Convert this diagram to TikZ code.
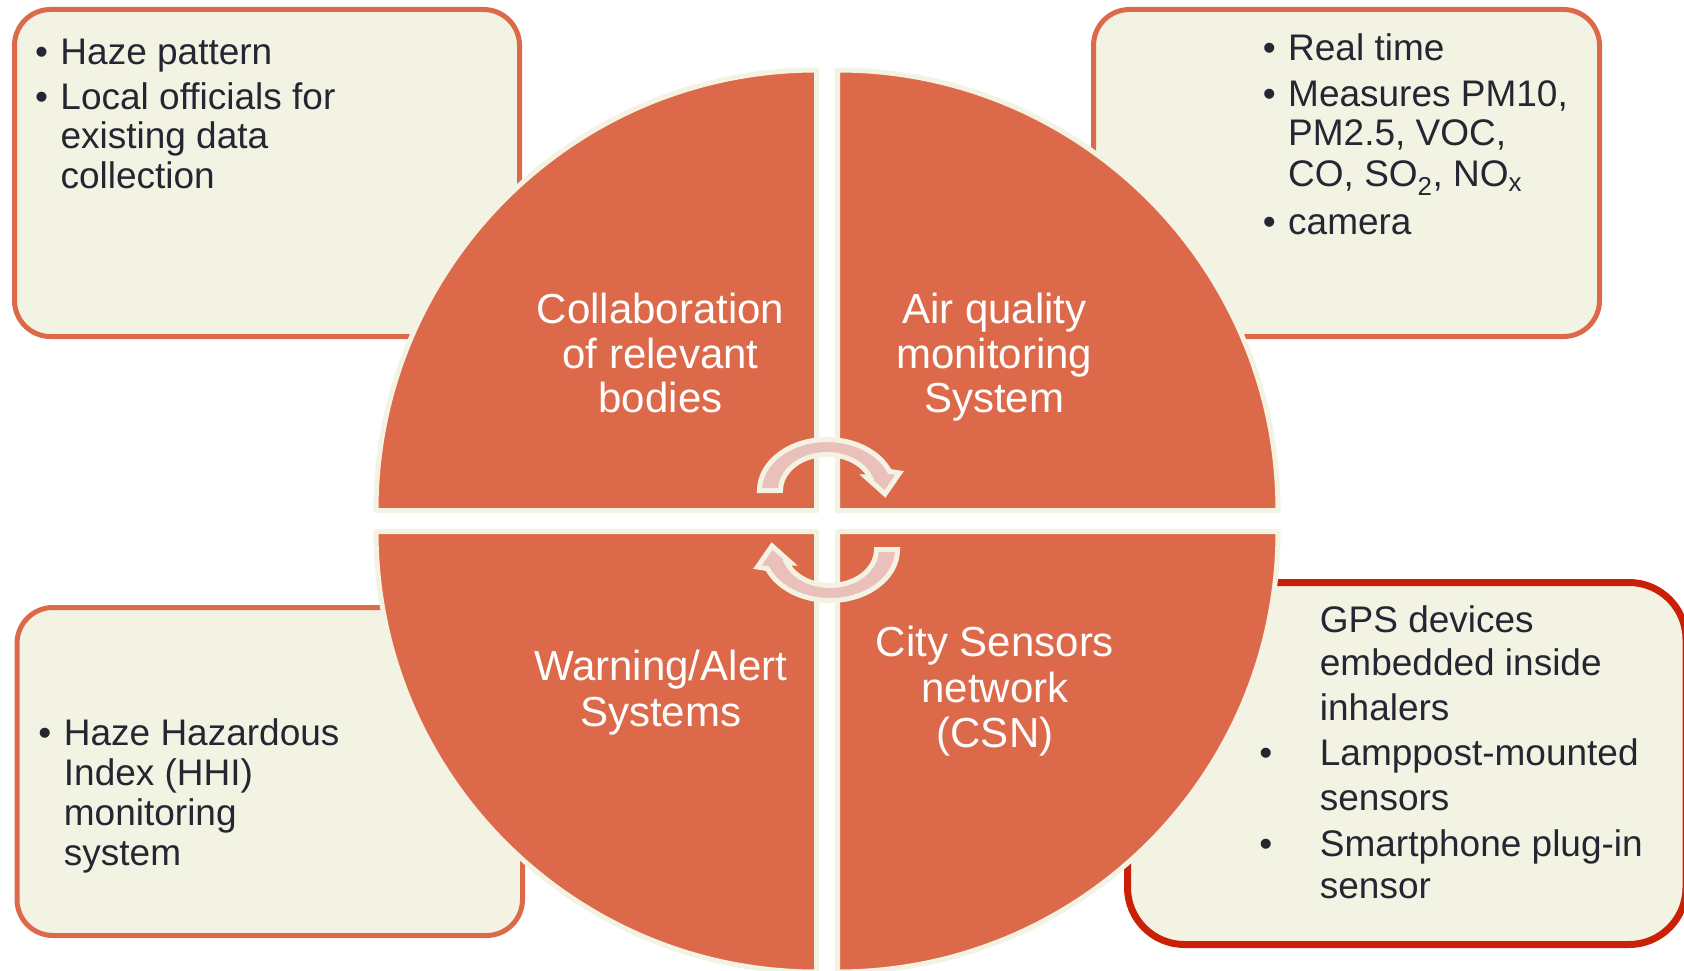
\documentclass[tikz,border=0pt]{standalone}
\usepackage{fontspec}
\setmainfont{Liberation Sans}
\definecolor{qorange}{RGB}{221,105,75}
\definecolor{qcream}{RGB}{243,242,227}
\definecolor{boxfill}{RGB}{243,243,228}
\definecolor{apink}{RGB}{234,192,187}
\definecolor{bred}{RGB}{202,32,8}
\definecolor{txtdark}{RGB}{38,38,51}
\newcommand{\boxfont}{\fontsize{37}{40}\selectfont}
\newcommand{\quadfont}{\fontsize{42}{45}\selectfont}
\newcommand{\bul}[1]{\llap{•\hspace{#1}}}
\tikzset{
  quad/.style={fill=qorange, draw=qcream, line width=5pt, line join=round},
  infobox/.style={fill=boxfill, draw=qorange, line width=5pt, rounded corners=36pt},
  redbox/.style={fill=boxfill, draw=bred, line width=7pt, rounded corners=57pt},
  boxtxt/.style={anchor=base west, inner sep=0pt, text=txtdark, font=\boxfont},
  quadtxt/.style={anchor=base, inner sep=0pt, text=white, font=\quadfont},
  cyc/.style={fill=apink, draw=qcream, line width=5pt, line join=miter},
}
\begin{document}
\begin{tikzpicture}[x=1pt,y=-1pt]
\useasboundingbox (0,0) rectangle (1684,971);
\clip (0,0) rectangle (1684,971);
\fill[white] (0,0) rectangle (1684,971);

% side boxes
\draw[infobox] (14.5,9.5) rectangle (519.5,336.5);
\draw[infobox] (1093.5,9.5) rectangle (1599.5,336.5);
\draw[infobox] (17,607.5) rectangle (522.5,935.5);
\draw[redbox] (1127.5,582.5) rectangle (1686,944.5);

% quadrants
\filldraw[quad] (816.5,510.5) -- (376,510.5) arc[start angle=180, end angle=90, radius=440.5pt] -- cycle;
\filldraw[quad] (837.5,510.5) -- (837.5,70) arc[start angle=90, end angle=0, radius=440.5pt] -- cycle;
\filldraw[quad] (816.5,531.5) -- (816.5,972) arc[start angle=270, end angle=180, radius=440.5pt] -- cycle;
\filldraw[quad] (837.5,531.5) -- (1278,531.5) arc[start angle=0, end angle=-90, radius=440.5pt] -- cycle;

% cycle arrows
\filldraw[cyc] (759.5,490.5) arc[start angle=180, end angle=22, x radius=67.5pt, y radius=51pt]
  -- (899.5,473) -- (885,494) -- (866,477) -- (870.11,477.01)
  arc[start angle=22, end angle=180, x radius=46.5pt, y radius=36pt] -- cycle;
\begin{scope}[rotate around={180:(828.5,520)}]
\filldraw[cyc] (759.5,490.5) arc[start angle=180, end angle=22, x radius=67.5pt, y radius=51pt]
  -- (899.5,473) -- (885,494) -- (866,477) -- (870.11,477.01)
  arc[start angle=22, end angle=180, x radius=46.5pt, y radius=36pt] -- cycle;
\end{scope}

% quadrant labels
\node[quadtxt] (q1a) at (660.5,323) {Collaboration};
\node[quadtxt] (q1b) at (660.5,368) {of relevant};
\node[quadtxt] (q1c) at (660.5,412) {bodies};
\node[quadtxt] (q2a) at (994.3,323) {Air quality};
\node[quadtxt] (q2b) at (994.3,368) {monitoring};
\node[quadtxt] (q2c) at (994.3,412) {System};
\node[quadtxt] (q3a) at (660.6,680) {Warning/Alert};
\node[quadtxt] (q3b) at (660.6,726) {Systems};
\node[quadtxt] (q4a) at (995,656.7) {City Sensors};
\node[quadtxt] (q4b) at (995,702.7) {network};
\node[quadtxt] (q4c) at (995,747) {(CSN)};

% top-left box text
\node[boxtxt] (tl1) at (60.3,65) {\bul{12.5pt}Haze pattern};
\node[boxtxt] (tl2) at (60.3,110) {\bul{12.5pt}Local officials for};
\node[boxtxt] (tl3) at (60.3,149) {existing data};
\node[boxtxt] (tl4) at (60.3,189) {collection};

% top-right box text
\node[boxtxt] (tr1) at (1288,60.7) {\bul{12.5pt}Real time};
\node[boxtxt] (tr2) at (1288,106.7) {\bul{12.5pt}Measures PM10,};
\node[boxtxt] (tr3) at (1288,146) {PM2.5, VOC,};
\node[boxtxt] (tr4) at (1288,186) {CO, SO\textsubscript{2}, NO\textsubscript{x}};
\node[boxtxt] (tr5) at (1288,234) {\bul{12.5pt}camera};

% bottom-left box text
\node[boxtxt] (bl1) at (63.7,745) {\bul{12.5pt}Haze Hazardous};
\node[boxtxt] (bl2) at (63.7,785) {Index (HHI)};
\node[boxtxt] (bl3) at (63.7,825) {monitoring};
\node[boxtxt] (bl4) at (63.7,865) {system};

% bottom-right box text
\node[boxtxt] (br1) at (1319.7,632.7) {GPS devices};
\node[boxtxt] (br2) at (1319.7,675) {embedded inside};
\node[boxtxt] (br3) at (1319.7,720) {inhalers};
\node[boxtxt] (br4) at (1319.7,765) {\bul{47.5pt}Lamppost-mounted};
\node[boxtxt] (br5) at (1319.7,810) {sensors};
\node[boxtxt] (br6) at (1319.7,856) {\bul{47.5pt}Smartphone plug-in};
\node[boxtxt] (br7) at (1319.7,898) {sensor};
\end{tikzpicture}
\end{document}
